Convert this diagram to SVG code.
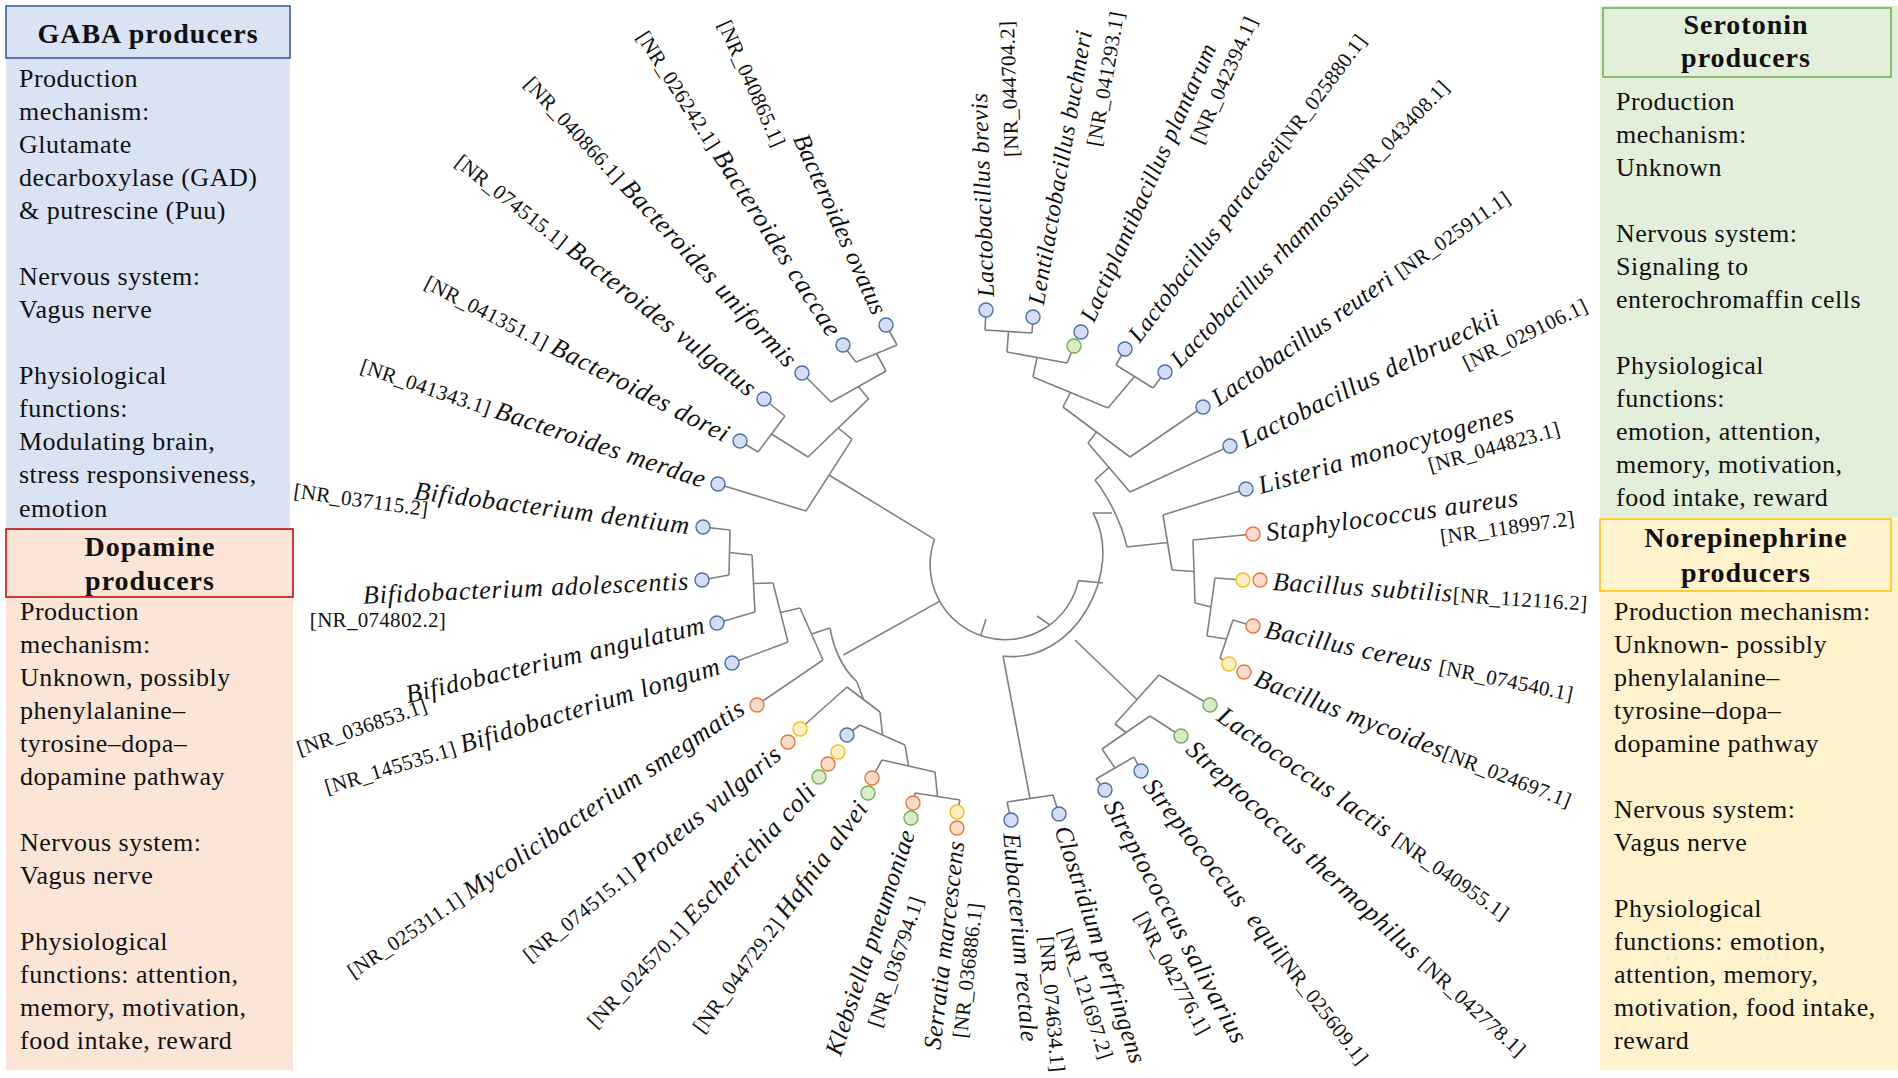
<svg xmlns="http://www.w3.org/2000/svg" width="1898" height="1078" viewBox="0 0 1898 1078">
<style>
text{font-family:"Liberation Serif","Times New Roman",serif;fill:#111}
.hdr{font-weight:bold;font-size:28px;letter-spacing:1px}
.body{font-size:26px;letter-spacing:0.5px}
.lab{font-size:26px;letter-spacing:0.8px}
.sm{font-size:24px;letter-spacing:0.5px}
.bt{font-size:25px;letter-spacing:0.3px}
.it{font-style:italic}
.acc{font-size:21px;font-style:normal;letter-spacing:0.3px}
.tree{fill:none;stroke:#808080;stroke-width:1.6;stroke-linejoin:round}
.b{fill:#d3def2;stroke:#4a6fb0;stroke-width:1.4}
.o{fill:#f8dccb;stroke:#e8783a;stroke-width:1.4}
.y{fill:#fff0c4;stroke:#f2c21b;stroke-width:1.4}
.g{fill:#d9ecca;stroke:#74b050;stroke-width:1.4}
</style>

<!-- Panels -->
<g id="panel-gaba">
<rect x="6" y="6" width="284" height="522" fill="#dae3f3"/>
<rect x="6" y="6" width="284" height="52" fill="#dae3f3" stroke="#2f5597" stroke-width="1.5"/>
<text class="hdr" x="148" y="43" text-anchor="middle">GABA producers</text>
<text class="body">
<tspan x="19" y="87">Production</tspan>
<tspan x="19" y="120">mechanism:</tspan>
<tspan x="19" y="153">Glutamate</tspan>
<tspan x="19" y="186">decarboxylase (GAD)</tspan>
<tspan x="19" y="219">&amp; putrescine (Puu)</tspan>
<tspan x="19" y="285">Nervous system:</tspan>
<tspan x="19" y="318">Vagus nerve</tspan>
<tspan x="19" y="384">Physiological</tspan>
<tspan x="19" y="417">functions:</tspan>
<tspan x="19" y="450">Modulating  brain,</tspan>
<tspan x="19" y="483">stress responsiveness,</tspan>
<tspan x="19" y="517">emotion</tspan>
</text>
</g>

<g id="panel-dopamine">
<rect x="6" y="528" width="287" height="542" fill="#fbe5d6"/>
<rect x="6" y="529" width="287" height="68" fill="#fbe5d6" stroke="#c00000" stroke-width="1.5"/>
<text class="hdr" x="150" y="556" text-anchor="middle">Dopamine</text>
<text class="hdr" x="150" y="590" text-anchor="middle">producers</text>
<text class="body">
<tspan x="20" y="620">Production</tspan>
<tspan x="20" y="653">mechanism:</tspan>
<tspan x="20" y="686">Unknown, possibly</tspan>
<tspan x="20" y="719">phenylalanine–</tspan>
<tspan x="20" y="752">tyrosine–dopa–</tspan>
<tspan x="20" y="785">dopamine pathway</tspan>
<tspan x="20" y="851">Nervous system:</tspan>
<tspan x="20" y="884">Vagus nerve</tspan>
<tspan x="20" y="950">Physiological</tspan>
<tspan x="20" y="983">functions: attention,</tspan>
<tspan x="20" y="1016">memory, motivation,</tspan>
<tspan x="20" y="1049">food intake,  reward</tspan>
</text>
</g>

<g id="panel-serotonin">
<rect x="1600" y="6" width="298" height="512" fill="#e2efda"/>
<rect x="1603" y="8" width="288" height="69" fill="#e2efda" stroke="#70ad47" stroke-width="1.5"/>
<text class="hdr" x="1746" y="34" text-anchor="middle">Serotonin</text>
<text class="hdr" x="1746" y="67" text-anchor="middle">producers</text>
<text class="body">
<tspan x="1616" y="110">Production</tspan>
<tspan x="1616" y="143">mechanism:</tspan>
<tspan x="1616" y="176">Unknown</tspan>
<tspan x="1616" y="242">Nervous system:</tspan>
<tspan x="1616" y="275">Signaling  to</tspan>
<tspan x="1616" y="308">enterochromaffin  cells</tspan>
<tspan x="1616" y="374">Physiological</tspan>
<tspan x="1616" y="407">functions:</tspan>
<tspan x="1616" y="440">emotion, attention,</tspan>
<tspan x="1616" y="473">memory, motivation,</tspan>
<tspan x="1616" y="506">food intake,  reward</tspan>
</text>
</g>

<g id="panel-norepinephrine">
<rect x="1600" y="519" width="298" height="551" fill="#fff2cc"/>
<rect x="1600" y="519" width="291" height="72" fill="#fff2cc" stroke="#ffc000" stroke-width="1.5"/>
<text class="hdr" x="1746" y="547" text-anchor="middle">Norepinephrine</text>
<text class="hdr" x="1746" y="582" text-anchor="middle">producers</text>
<text class="body">
<tspan x="1614" y="620">Production mechanism:</tspan>
<tspan x="1614" y="653">Unknown- possibly</tspan>
<tspan x="1614" y="686">phenylalanine–</tspan>
<tspan x="1614" y="719">tyrosine–dopa–</tspan>
<tspan x="1614" y="752">dopamine pathway</tspan>
<tspan x="1614" y="818">Nervous system:</tspan>
<tspan x="1614" y="851">Vagus nerve</tspan>
<tspan x="1614" y="917">Physiological</tspan>
<tspan x="1614" y="950">functions: emotion,</tspan>
<tspan x="1614" y="983">attention,  memory,</tspan>
<tspan x="1614" y="1016">motivation,  food intake,</tspan>
<tspan x="1614" y="1049">reward</tspan>
</text>
</g>

<!-- Tree connectors -->
<g id="connectors" class="tree">
<path d="M934.5,539.4 A75,75 0 1 0 1078.4,580.6"/>
<path d="M980.6,635.9 L986,619"/>
<path d="M1037,616 L1050,625"/>
<path d="M886,325 L897,345 M843,345 L856,362 M897,345 L856,362 M876.5,353.5 L886,371"/>
<path d="M802,373 L831,402 M886,371 L831,402 M858.5,386.5 L868.6,398.9"/>
<path d="M764,399 L785,416 M740,441 L758,452 M785,416 L758,452 M771.5,434 L808,457"/>
<path d="M808,457 L868.6,398.9 M838.3,428 L852,439.4"/>
<path d="M718,484 L806,511 M852,439.4 L806,511 M829,475 L934.5,539.4"/>
<path d="M703,527 L730,530 M702,580 L729,575 M730,530 L729,575 M729.5,552.5 L752,555"/>
<path d="M717,623 L755,612 M752,555 L755,612 M753.5,583.5 L773,583"/>
<path d="M732,663 L788,642 M773,583 L788,642 M780.5,612.5 L800,608"/>
<path d="M757,705 L823,660 M800,608 L823,660 M811.5,634 L830,628"/>
<path d="M830,628 Q836,662 857,682 M843.5,655 L939.4,601.4"/>
<path d="M913,803 L915,793 M957,812 L960,800 M915,793 L960,800 M937.5,796.5 L935,772"/>
<path d="M872,778 L882,760 M882,760 L935,772 M908.5,766 L905,745"/>
<path d="M847,735 L860,725 M860,725 L905,745 M882.5,735 L880,712"/>
<path d="M800,729 L847,687 M847,687 L880,712 M863.5,699.5 L857,682"/>
<path d="M986,310 L985,330 M1033,317 L1032,333 M985,330 L1032,333 M1008.5,331.5 L1007,352"/>
<path d="M1074,346 L1067,363 M1007,352 L1067,363 M1037,357.5 L1033,377"/>
<path d="M1125,349 L1116,365 M1165,372 L1153,388 M1116,365 L1153,388 M1134.5,376.5 L1108,408"/>
<path d="M1033,377 L1108,408 M1070.5,392.5 L1063,407"/>
<path d="M1203,407 L1130,457 M1063,407 L1130,457 M1096.5,432 L1088,443"/>
<path d="M1230,446 L1130,492 M1088,443 L1130,492 M1109,467.5 L1095,480"/>
<path d="M1246,489 L1163,515 M1253,534 L1193,540 M1243,580 L1215,578 M1253,626 L1233,620 M1229,664 L1220,658"/>
<path d="M1233,620 L1220,658 M1226.5,639 L1207,636"/>
<path d="M1215,578 L1207,636 M1211,607 L1195,603"/>
<path d="M1193,540 L1195,603 M1194,571.5 L1172,570"/>
<path d="M1163,515 L1172,570 M1167.5,542.5 L1127,547"/>
<path d="M1095,480 Q1118,510 1127,547 M1112,513 L1093,513"/>
<path d="M1093,513 C1125,570 1075,665 1003,656"/>
<path d="M1103,583 L1078.4,580.6"/>
<path d="M1210,705 L1159,675 M1181,736 L1150,716 M1141,771 L1134,757 M1105,790 L1096,779"/>
<path d="M1134,757 L1096,779 M1115,768 L1102,749"/>
<path d="M1150,716 L1102,749 M1126,732.5 L1115,724"/>
<path d="M1159,675 L1115,724 M1137,699.5 L1075,640"/>
<path d="M1011,820 L1007,802 M1059,814 L1053,795 M1007,802 L1053,795 M1030,798.5 L1003,656"/>
</g>

<!-- Leaves -->
<g id="leaf-bacteroides-ovatus"><circle class="b" cx="886" cy="325" r="7"/>
<text class="lab bt" transform="translate(880.7,313.1) rotate(65.9)" text-anchor="end"><tspan class="it" x="0" y="9">Bacteroides ovatus</tspan><tspan class="acc" x="-194" y="31">[NR_040865.1]</tspan></text></g>
<g id="leaf-bacteroides-caccae"><circle class="b" cx="843" cy="345" r="7"/>
<text class="lab" transform="translate(836,334) rotate(57.5)" text-anchor="end" y="9"><tspan class="acc">[NR_026242.1] </tspan><tspan class="it">Bacteroides caccae</tspan></text></g>
<g id="leaf-bacteroides-uniformis"><circle class="b" cx="802" cy="373" r="7"/>
<text class="lab" transform="translate(793.2,363.5) rotate(47.2)" text-anchor="end" y="9"><tspan class="acc">[NR_040866.1] </tspan><tspan class="it">Bacteroides uniformis</tspan></text></g>
<g id="leaf-bacteroides-vulgatus"><circle class="b" cx="764" cy="399" r="7"/>
<text class="lab" transform="translate(753.8,390.9) rotate(38.4)" text-anchor="end" y="9"><tspan class="acc">[NR_074515.1] </tspan><tspan class="it">Bacteroides vulgatus</tspan></text></g>
<g id="leaf-bacteroides-dorei"><circle class="b" cx="740" cy="441" r="7"/>
<text class="lab" transform="translate(728.4,435) rotate(27.3)" text-anchor="end" y="9"><tspan class="acc">[NR_041351.1] </tspan><tspan class="it">Bacteroides dorei</tspan></text></g>
<g id="leaf-bacteroides-merdae"><circle class="b" cx="718" cy="484" r="7"/>
<text class="lab" transform="translate(705.7,479.8) rotate(18.7)" text-anchor="end" y="9"><tspan class="acc">[NR_041343.1] </tspan><tspan class="it">Bacteroides merdae</tspan></text></g>
<g id="leaf-bifidobacterium-dentium"><circle class="b" cx="703" cy="527" r="7"/>
<text class="lab it" transform="translate(690.1,525.3) rotate(7.3)" text-anchor="end" y="9">Bifidobacterium dentium</text>
<text class="acc" transform="translate(361,500) rotate(8)" text-anchor="middle" y="7">[NR_037115.2]</text></g>
<g id="leaf-bifidobacterium-adolescentis"><circle class="b" cx="702" cy="580" r="7"/>
<text class="lab it" transform="translate(689,580.6) rotate(-2.5)" text-anchor="end" y="9">Bifidobacterium adolescentis</text>
<text class="acc" x="378" y="627" text-anchor="middle">[NR_074802.2]</text></g>
<g id="leaf-bifidobacterium-angulatum"><circle class="b" cx="717" cy="623" r="7"/>
<text class="lab it" transform="translate(704.4,624) rotate(-13.3)" text-anchor="end" y="9">Bifidobacterium angulatum</text>
<text class="acc" transform="translate(362,727) rotate(-19)" text-anchor="middle" y="7">[NR_036853.1]</text></g>
<g id="leaf-bifidobacterium-longum"><circle class="b" cx="732" cy="663" r="7"/>
<text class="lab" transform="translate(719.6,665) rotate(-17)" text-anchor="end" y="9"><tspan class="acc">[NR_145535.1] </tspan><tspan class="it">Bifidobacterium longum</tspan></text></g>
<g id="leaf-mycolicibacterium-smegmatis"><circle class="o" cx="757" cy="705" r="7"/>
<text class="lab" transform="translate(742,705) rotate(-34.1)" text-anchor="end" y="9"><tspan class="acc">[NR_025311.1] </tspan><tspan class="it">Mycolicibacterium smegmatis</tspan></text></g>
<g id="leaf-proteus-vulgaris"><circle class="y" cx="800" cy="729" r="7"/><circle class="o" cx="788" cy="742" r="7"/>
<text class="lab" transform="translate(777.9,750.2) rotate(-39.1)" text-anchor="end" y="9"><tspan class="acc">[NR_074515.1] </tspan><tspan class="it">Proteus vulgaris</tspan></text></g>
<g id="leaf-escherichia-coli"><circle class="b" cx="847" cy="735" r="7"/><circle class="y" cx="838" cy="752" r="7"/><circle class="o" cx="828" cy="764" r="7"/><circle class="g" cx="819" cy="777" r="7"/>
<text class="lab" transform="translate(811,786.5) rotate(-46.9)" text-anchor="end" y="9"><tspan class="acc">[NR_024570.1] </tspan><tspan class="it">Escherichia coli</tspan></text></g>
<g id="leaf-hafnia-alvei"><circle class="o" cx="872" cy="778" r="7"/><circle class="g" cx="868" cy="793" r="7"/>
<text class="lab" transform="translate(862,803) rotate(-53.7)" text-anchor="end" y="9"><tspan class="acc">[NR_044729.2] </tspan><tspan class="it">Hafnia alvei</tspan></text></g>
<g id="leaf-klebsiella-pneumoniae"><circle class="o" cx="913" cy="803" r="7"/><circle class="g" cx="911" cy="818" r="7"/>
<text class="lab bt" transform="translate(906.9,830.3) rotate(-71.5)" text-anchor="end"><tspan class="it" x="0" y="9">Klebsiella pneumoniae</tspan><tspan class="acc" x="-60" y="38">[NR_036794.1]</tspan></text></g>
<g id="leaf-serratia-marcescens"><circle class="y" cx="957" cy="812" r="7"/><circle class="o" cx="957" cy="828" r="7"/>
<text class="lab bt" transform="translate(955.5,840.9) rotate(-83.4)" text-anchor="end"><tspan class="it" x="0" y="9">Serratia marcescens</tspan><tspan class="acc" x="-59" y="34">[NR_036886.1]</tspan></text></g>
<g id="leaf-eubacterium-rectale"><circle class="b" cx="1011" cy="820" r="7"/>
<text class="lab bt" transform="translate(1012.1,833) rotate(85)"><tspan class="it" x="0" y="9">Eubacterium rectale</tspan><tspan class="acc" x="106" y="-18">[NR_074634.1]</tspan></text></g>
<g id="leaf-clostridium-perfringens"><circle class="b" cx="1059" cy="814" r="7"/>
<text class="lab bt" transform="translate(1062.8,826.4) rotate(72)"><tspan class="it" x="0" y="9">Clostridium perfringens</tspan><tspan class="acc" x="98" y="37">[NR_121697.2]</tspan></text></g>
<g id="leaf-streptococcus-salivarius"><circle class="b" cx="1105" cy="790" r="7"/>
<text class="lab" transform="translate(1111.2,801.4) rotate(61.5)"><tspan class="it" x="0" y="9">Streptococcus salivarius</tspan><tspan class="acc" x="112" y="35">[NR_042776.1]</tspan></text></g>
<g id="leaf-streptococcus-equi"><circle class="b" cx="1141" cy="771" r="7"/>
<text class="lab" transform="translate(1149,781.3) rotate(52.2)" y="9"><tspan class="it">Streptococcus</tspan><tspan class="it" dx="14">equi</tspan><tspan class="acc">[NR_025609.1]</tspan></text></g>
<g id="leaf-streptococcus-thermophilus"><circle class="g" cx="1181" cy="736" r="7"/>
<text class="lab" transform="translate(1190.6,744.8) rotate(42.6)" y="9"><tspan class="it">Streptococcus thermophilus </tspan><tspan class="acc">[NR_042778.1]</tspan></text></g>
<g id="leaf-lactococcus-lactis"><circle class="g" cx="1210" cy="705" r="7"/>
<text class="lab" transform="translate(1220.6,712.5) rotate(35)" y="9"><tspan class="it">Lactococcus lactis </tspan><tspan class="acc">[NR_040955.1]</tspan></text></g>
<g id="leaf-bacillus-mycoides"><circle class="y" cx="1229" cy="664" r="7"/><circle class="o" cx="1244" cy="672" r="7"/>
<text class="lab" transform="translate(1256.1,676.7) rotate(21.3)" y="9"><tspan class="it">Bacillus mycoides</tspan><tspan class="acc">[NR_024697.1]</tspan></text></g>
<g id="leaf-bacillus-cereus"><circle class="o" cx="1253" cy="626" r="7"/>
<text class="lab" transform="translate(1265.7,628.6) rotate(11.7)" y="9"><tspan class="it">Bacillus cereus </tspan><tspan class="acc">[NR_074540.1]</tspan></text></g>
<g id="leaf-bacillus-subtilis"><circle class="y" cx="1243" cy="580" r="7"/><circle class="o" cx="1260" cy="580" r="7"/>
<text class="lab" transform="translate(1273,580.9) rotate(3.8)" y="9"><tspan class="it">Bacillus subtilis</tspan><tspan class="acc">[NR_112116.2]</tspan></text></g>
<g id="leaf-staphylococcus-aureus"><circle class="o" cx="1253" cy="534" r="7"/>
<text class="lab" transform="translate(1265.9,532.2) rotate(-8)"><tspan class="it" x="0" y="9">Staphylococcus aureus</tspan><tspan class="acc" x="172" y="36">[NR_118997.2]</tspan></text></g>
<g id="leaf-listeria-monocytogenes"><circle class="b" cx="1246" cy="489" r="7"/>
<text class="lab" transform="translate(1258.5,485.4) rotate(-16)"><tspan class="it" x="0" y="9">Listeria monocytogenes</tspan><tspan class="acc" x="169" y="35">[NR_044823.1]</tspan></text></g>
<g id="leaf-lactobacillus-delbrueckii"><circle class="b" cx="1230" cy="446" r="7"/>
<text class="lab" transform="translate(1241.7,440.3) rotate(-26)"><tspan class="it" x="0" y="9">Lactobacillus delbrueckii</tspan><tspan class="acc" x="233" y="36">[NR_029106.1]</tspan></text></g>
<g id="leaf-lactobacillus-reuteri"><circle class="b" cx="1203" cy="407" r="7"/>
<text class="lab bt" transform="translate(1213.6,399.5) rotate(-35)" y="9"><tspan class="it">Lactobacillus reuteri </tspan><tspan class="acc">[NR_025911.1]</tspan></text></g>
<g id="leaf-lactobacillus-rhamnosus"><circle class="b" cx="1165" cy="372" r="7"/>
<text class="lab sm" transform="translate(1174,362.7) rotate(-46)" y="8.5"><tspan class="it">Lactobacillus rhamnosus</tspan><tspan class="acc">[NR_043408.1]</tspan></text></g>
<g id="leaf-lactobacillus-paracasei"><circle class="b" cx="1125" cy="349" r="7"/>
<text class="lab sm" transform="translate(1132.8,338.6) rotate(-53)" y="8.5"><tspan class="it">Lactobacillus paracasei</tspan><tspan class="acc">[NR_025880.1]</tspan></text></g>
<g id="leaf-lactiplantibacillus-plantarum"><circle class="b" cx="1081" cy="332" r="7"/><circle class="g" cx="1074" cy="346" r="7"/>
<text class="lab sm" transform="translate(1086.3,320.1) rotate(-66)"><tspan class="it" x="0" y="8.5">Lactiplantibacillus plantarum</tspan><tspan class="acc" x="207" y="35">[NR_042394.1]</tspan></text></g>
<g id="leaf-lentilactobacillus-buchneri"><circle class="b" cx="1033" cy="317" r="7"/>
<text class="lab sm" transform="translate(1035.3,304.2) rotate(-80)"><tspan class="it" x="0" y="8.5">Lentilactobacillus buchneri</tspan><tspan class="acc" x="166" y="37">[NR_041293.1]</tspan></text></g>
<g id="leaf-lactobacillus-brevis"><circle class="b" cx="986" cy="310" r="7"/>
<text class="lab sm" transform="translate(985.5,297) rotate(-92)"><tspan class="it" x="0" y="8.5">Lactobacillus brevis</tspan><tspan class="acc" x="139" y="38">[NR_044704.2]</tspan></text></g>
</svg>
